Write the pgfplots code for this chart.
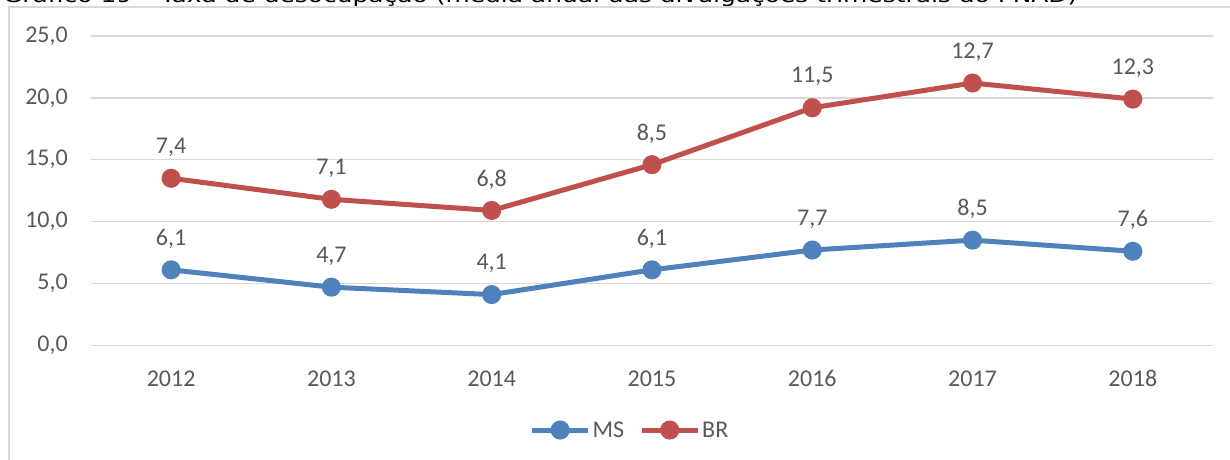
\documentclass[border=0pt]{standalone}
\usepackage{pgfplots}
\pgfplotsset{compat=1.18}
\usepackage{pgfplotstable}
\usepackage{graphicx}
\usepackage{fontspec}
\setmainfont{Carlito}
\newfontfamily\titlefont{DejaVu Sans}
\definecolor{msblue}{RGB}{79,129,189}
\definecolor{brred}{RGB}{192,80,77}
\definecolor{gridgray}{RGB}{217,217,217}
\definecolor{txtgray}{RGB}{89,89,89}

\pgfplotstableread{
x ms br
0 6.1 7.4
1 4.7 7.1
2 4.1 6.8
3 6.1 8.5
4 7.7 11.5
5 8.5 12.7
6 7.6 12.3
}\datatable

\begin{document}
\begin{tikzpicture}[x=1pt,y=1pt]
\useasboundingbox (0,0) rectangle (1230,459);
\fill[white] (0,0) rectangle (1230,459);
\begin{scope}
\clip (0,0) rectangle (1230,459);
\node[anchor=base west, inner sep=0pt, text=black] at (3,456.5) {\resizebox{1074pt}{\height}{\titlefont\fontsize{20}{24}\selectfont Gráfico 19 – Taxa de desocupação (média anual das divulgações trimestrais do PNAD)}};
\draw[gridgray, line width=1.5pt] (9,-5) -- (9,452) -- (1240,452);
\end{scope}
\begin{axis}[
  at={(91pt,113.7pt)}, anchor=south west,
  width=1122pt, height=309.3pt, scale only axis,
  xmin=-0.5, xmax=6.5, ymin=0, ymax=25,
  stack plots=y,
  clip=false,
  axis line style={draw=none},
  tick style={draw=none},
  ymajorgrids, grid style={gridgray, line width=1.5pt},
  ytick={0,5,10,15,20,25},
  xtick={0,1,2,3,4,5,6},
  xticklabels={2012,2013,2014,2015,2016,2017,2018},
  /pgf/number format/.cd, fixed, fixed zerofill, precision=1, use comma, assume math mode=true,
  /pgfplots/.cd,
  ticklabel style={font=\fontsize{24}{28}\selectfont, text=txtgray},
  yticklabel style={anchor=east, inner sep=0pt, xshift=-23pt},
  xticklabel style={anchor=center, inner sep=0pt, yshift=-33pt},
  nodes near coords={\pgfmathprintnumber[fixed,fixed zerofill,precision=1,use comma,assume math mode=true]{\pgfplotspointmeta}},
  every node near coord/.append style={font=\fontsize{24}{28}\selectfont, text=txtgray, anchor=center, inner sep=0pt, yshift=31pt},
  point meta=explicit,
  legend style={at={(0.4804,-0.274)}, anchor=center, draw=none, fill=none,
    font=\fontsize{24}{28}\selectfont, text=txtgray, legend columns=2,
    /tikz/every even column/.append style={column sep=13pt}, inner sep=0pt,
    nodes={inner sep=2pt}},
  legend cell align=left,
  legend image code/.code={\draw[mark repeat=2,mark phase=2] plot coordinates {(0pt,0pt) (28pt,0pt) (56pt,0pt)};},
]
\addplot[msblue, line width=5pt, mark=*, mark size=7pt, mark options={draw=none, fill=msblue}] table[x=x, y=ms, meta=ms] {\datatable};
\addlegendentry{MS}
\addplot[brred, line width=5pt, mark=*, mark size=7pt, mark options={draw=none, fill=brred}] table[x=x, y=br, meta=br] {\datatable};
\addlegendentry{BR}
\end{axis}
\end{tikzpicture}
\end{document}
